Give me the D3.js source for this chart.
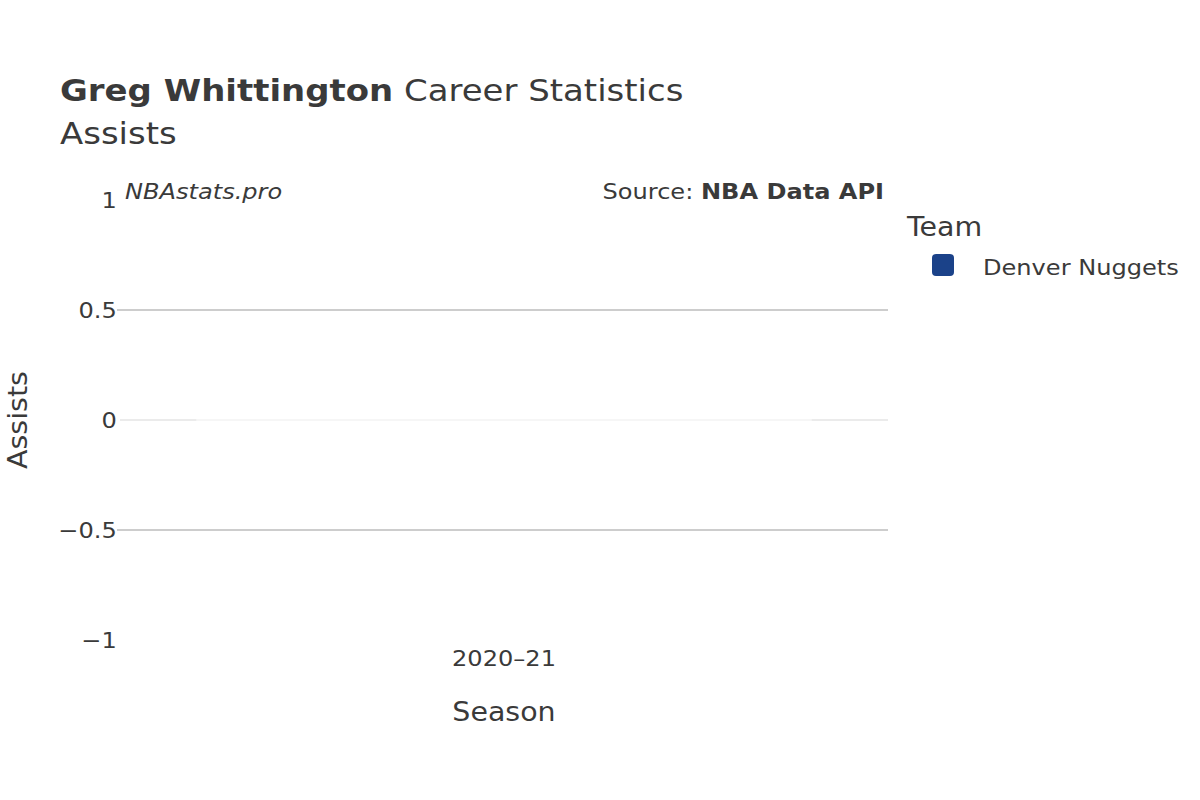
<!DOCTYPE html>
<html><head><meta charset="utf-8">
<script src="https://cdn.jsdelivr.net/npm/d3@7"></script>
<style>body{margin:0;background:#fff}svg{display:block}text{font-family:"DejaVu Sans",sans-serif;fill:#3a3a3a}</style>
</head><body>
<svg id="c" width="1200" height="800"></svg>
<script>
const seasons = ["2020–21"];
const assists = [0];
const teams = ["Denver Nuggets"];
const teamColors = ["#1b4289"];
const yTicks = [-1, -0.5, 0, 0.5, 1];

const SX = 1.095;
const svg = d3.select("#c");
const L = 120, R = 888, T = 200, B = 640;
const x = d3.scaleBand().domain(seasons).range([L, R]).paddingInner(0.2).paddingOuter(0.1);
const y = d3.scaleLinear().domain([-1, 1]).range([B, T]);
const fmt = d => d === 0 ? "0" : (d < 0 ? "\u2212" + Math.abs(d) : String(d));

function txt(px, py, size, extra) {
  return svg.append("text").attr("transform", `translate(${px},${py})${extra || ""} scale(${SX},1)`).attr("font-size", size);
}

// grid
svg.append("g").selectAll("line").data(yTicks.filter(d => d !== 0 && Math.abs(d) !== 1)).join("line")
  .attr("x1", L - 3).attr("x2", R).attr("y1", d => y(d)).attr("y2", d => y(d))
  .attr("stroke", "#bdbdbd").attr("stroke-width", 1.5);
// zero line
svg.append("line").attr("x1", L).attr("x2", R).attr("y1", y(0)).attr("y2", y(0))
  .attr("stroke", "#ebebeb").attr("stroke-width", 2);

// y axis ticks
const yAxis = d3.axisLeft(y).tickValues(yTicks).tickFormat(fmt).tickSize(0).tickPadding(3);
const ga = svg.append("g").attr("transform", `translate(${L},0)`).call(yAxis);
ga.select(".domain").remove();
ga.selectAll("text").attr("font-size", 22).attr("fill", "#3a3a3a").style("font-family", "DejaVu Sans")
  .attr("transform", `scale(${SX},1)`);

// bars
svg.append("g").selectAll("rect").data(seasons).join("rect")
  .attr("x", d => x(d)).attr("width", x.bandwidth())
  .attr("y", (d, i) => y(Math.max(0, assists[i])) - 0.5).attr("height", (d, i) => Math.max(1, Math.abs(y(assists[i]) - y(0))))
  .attr("fill", teamColors[0]).attr("fill-opacity", assists.every(v => v === 0) ? 0 : 1)
  .attr("stroke", "#ffffff").attr("stroke-opacity", 0.55).attr("stroke-width", 1);

// x axis
const xAxis = d3.axisBottom(x).tickSize(0).tickPadding(0);
const gx = svg.append("g").attr("transform", `translate(0,${B})`).call(xAxis);
gx.select(".domain").remove();
gx.selectAll("text").attr("font-size", 22).attr("fill", "#3a3a3a").attr("dy", "1.2em").style("font-family", "DejaVu Sans")
  .attr("transform", `scale(${SX},1)`);

// titles
const t = txt(60, 101, 31);
t.append("tspan").attr("font-weight", "bold").text("Greg Whittington");
t.append("tspan").text(" Career Statistics");
txt(60, 144, 31).text("Assists");

txt(125, 199, 22).attr("font-style", "italic").text("NBAstats.pro");
const s = txt(884, 199, 22).attr("text-anchor", "end");
s.append("tspan").text("Source: ");
s.append("tspan").attr("font-weight", "bold").text("NBA Data API");

txt((L + R) / 2, 721, 26).attr("text-anchor", "middle").text("Season");
txt(27, (T + B) / 2, 26, " rotate(-90)").attr("text-anchor", "middle").text("Assists");

// legend
txt(907, 236, 26).text("Team");
const lg = svg.append("g").selectAll("g").data(teams).join("g").attr("transform", (d, i) => `translate(932,${254 + i * 30})`);
lg.append("rect").attr("width", 22).attr("height", 22).attr("rx", 4).attr("fill", (d, i) => teamColors[i]);
lg.append("text").attr("transform", `translate(51,21) scale(${SX},1)`).attr("font-size", 22).text(d => d);
</script>
</body></html>
